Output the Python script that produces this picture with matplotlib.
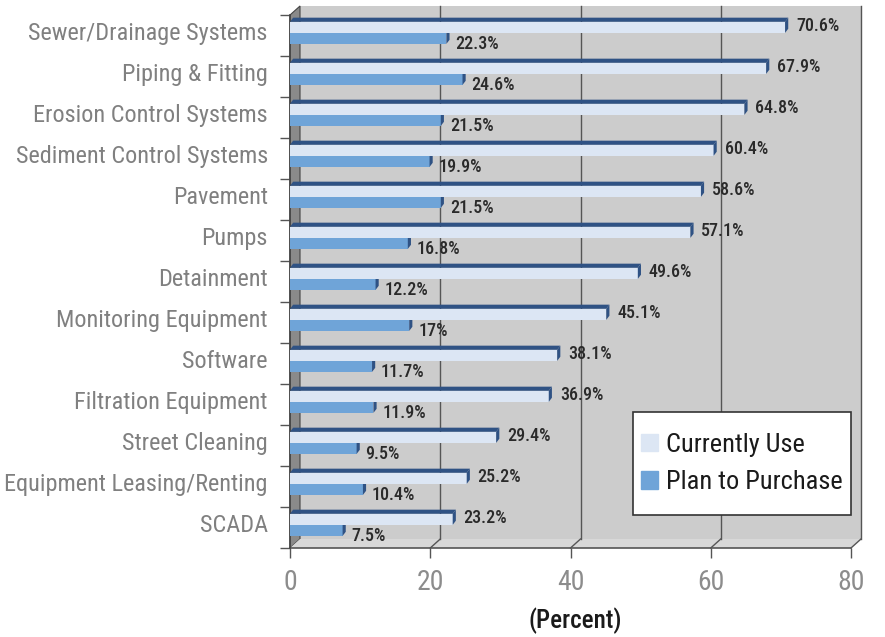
import matplotlib
matplotlib.use('Agg')
import matplotlib.pyplot as plt
from matplotlib.patches import Polygon, Rectangle
from matplotlib.transforms import ScaledTranslation, IdentityTransform
from matplotlib import font_manager

categories = ['Sewer/Drainage Systems', 'Piping & Fitting', 'Erosion Control Systems',
              'Sediment Control Systems', 'Pavement', 'Pumps', 'Detainment',
              'Monitoring Equipment', 'Software', 'Filtration Equipment',
              'Street Cleaning', 'Equipment Leasing/Renting', 'SCADA']
currently_use = [70.6, 67.9, 64.8, 60.4, 58.6, 57.1, 49.6, 45.1, 38.1, 36.9, 29.4, 25.2, 23.2]
plan_to_purchase = [22.3, 24.6, 21.5, 19.9, 21.5, 16.8, 12.2, 17, 11.7, 11.9, 9.5, 10.4, 7.5]
plan_labels = ['22.3%', '24.6%', '21.5%', '19.9%', '21.5%', '16.8%', '12.2%', '17%',
               '11.7%', '11.9%', '9.5%', '10.4%', '7.5%']
xticks = [0, 20, 40, 60, 80]

# pick a condensed sans that is installed
upright = {f.name for f in font_manager.fontManager.ttflist if f.style == 'normal'}
FONT = 'Liberation Sans'
for cand in ['Roboto Condensed', 'Archivo Narrow', 'PT Sans Narrow', 'Liberation Sans Narrow',
             'Pragati Narrow', 'Barlow Condensed']:
    if cand in upright:
        FONT = cand
        break
plt.rcParams['font.family'] = [FONT, 'DejaVu Sans']

LIGHT = '#dce6f4'
DARK = '#2f5284'
BLUE = '#6fa4d8'
WALL = '#cccccc'
SIDE = '#8a8a8a'
FLOOR = '#d8d8d8'
GRID = '#555555'

W, H = 885, 637
fig = plt.figure(figsize=(W / 100, H / 100), dpi=100)
L, R, T, B = 290, 851, 15, 548
ax = fig.add_axes([L / W, 1 - B / H, (R - L) / W, (B - T) / H])
ax.set_xlim(0, 80)
ax.set_ylim(len(categories) - 0.5, -0.5)
ax.patch.set_visible(False)
for s in ax.spines.values():
    s.set_visible(False)

DX, DY = 10, 9  # depth in pixels
back = ax.transData + ScaledTranslation(DX / 100, DY / 100, fig.dpi_scale_trans)
back_ax = ax.transAxes + ScaledTranslation(DX / 100, DY / 100, fig.dpi_scale_trans)

# back wall
ax.add_patch(Rectangle((0, 0), 1, 1, transform=back_ax, facecolor=WALL,
                       edgecolor='none', zorder=0, clip_on=False))
# side wall and floor (display coords)
fl = ax.transAxes.transform([(0, 0), (1, 0), (0, 1)])
side = [(fl[0][0], fl[0][1]), (fl[2][0], fl[2][1]),
        (fl[2][0] + DX, fl[2][1] + DY), (fl[0][0] + DX, fl[0][1] + DY)]
floor = [(fl[0][0], fl[0][1]), (fl[1][0], fl[1][1]),
         (fl[1][0] + DX, fl[1][1] + DY), (fl[0][0] + DX, fl[0][1] + DY)]
ax.add_patch(Polygon(side, closed=True, transform=IdentityTransform(), clip_on=False,
                     facecolor=SIDE, edgecolor='#444444', lw=0.8, zorder=1))
ax.add_patch(Polygon(floor, closed=True, transform=IdentityTransform(), clip_on=False,
                     facecolor=FLOOR, edgecolor='none', zorder=1))

# back grid lines and floor diagonals
y0, y1 = ax.get_ylim()
for x in xticks[1:]:
    ax.plot([x, x], [y0, y1], color=GRID, lw=1, transform=back, zorder=1.5, clip_on=False)
    p = ax.transData.transform((x, y0))
    ax.plot([p[0], p[0] + DX], [p[1], p[1] + DY], color=GRID, lw=1,
            transform=IdentityTransform(), zorder=2, clip_on=False)
# front bottom and left edges
ax.axhline(y0, color=GRID, lw=1.2, zorder=3, clip_on=False)
ax.axvline(0, color='#444444', lw=1.2, zorder=3, clip_on=False)

# bars
h = 0.27
yc = [i - 0.2 for i in range(len(categories))]
yp = [i + 0.07 for i in range(len(categories))]
ddx, ddy = 0.45, 0.1  # 3D face in data units


def bar3d(y, v, face):
    ax.barh(y, v, height=h, color=face, edgecolor='none', zorder=4)
    top = y - h / 2
    ax.add_patch(Polygon([(0, top), (v, top), (v + ddx, top - ddy), (ddx, top - ddy)],
                         closed=True, facecolor=DARK, edgecolor='none', zorder=4))
    ax.add_patch(Polygon([(v, top), (v + ddx, top - ddy), (v + ddx, y + h / 2 - ddy),
                          (v, y + h / 2)], closed=True, facecolor=DARK,
                         edgecolor='none', zorder=4))


for y, v in zip(yp, plan_to_purchase):
    bar3d(y, v, BLUE)
for y, v in zip(yc, currently_use):
    bar3d(y, v, LIGHT)

for y, v in zip(yc, currently_use):
    ax.annotate(f'{v}%', (v, y), xytext=(11, 1), textcoords='offset pixels',
                va='center', ha='left', fontsize=13, fontweight='medium',
                color='#2a2a2a', zorder=6)
for y, v, t in zip(yp, plan_to_purchase, plan_labels):
    ax.annotate(t, (v, y + 0.13), xytext=(9, 0), textcoords='offset pixels',
                va='center', ha='left', fontsize=13, fontweight='medium',
                color='#2a2a2a', zorder=6)

# axes ticks
ax.set_xticks(xticks)
ax.set_xticklabels([str(x) for x in xticks], fontsize=20, color='#8c8c8c')
ax.tick_params(axis='x', length=7, width=1, color=GRID, pad=8)
ax.set_yticks([i + 0.5 for i in range(-1, len(categories))])
ax.set_yticklabels([])
ax.set_yticks([i - 0.1 for i in range(len(categories))], minor=True)
ax.set_yticklabels(categories, minor=True, fontsize=17.5, color='#808080')
ax.tick_params(axis='y', which='major', length=7, width=1, color=GRID)
ax.tick_params(axis='y', which='minor', length=0, pad=16)
ax.set_xlabel('(Percent)', fontsize=18, fontweight='medium', color='#1a1a1a',
              labelpad=8, x=0.509)

# legend box
ax.add_patch(Rectangle((0.611, 0.062), 0.389, 0.193, transform=ax.transAxes,
                       facecolor='white', edgecolor='#333333', lw=1.2,
                       zorder=9, clip_on=False))
leg = ax.legend(handles=[Rectangle((0, 0), 1, 1, color=LIGHT),
                         Rectangle((0, 0), 1, 1, color=BLUE)],
                labels=['Currently Use', 'Plan to Purchase'],
                loc='center', bbox_to_anchor=(0.806, 0.1585), borderaxespad=0,
                fontsize=19, frameon=False, handlelength=0.64, handleheight=0.64,
                handletextpad=0.3, borderpad=0, labelspacing=0.5)
for t in leg.get_texts():
    t.set_color('#1a1a1a')
leg.set_zorder(10)

plt.savefig('out.png', dpi=100)
